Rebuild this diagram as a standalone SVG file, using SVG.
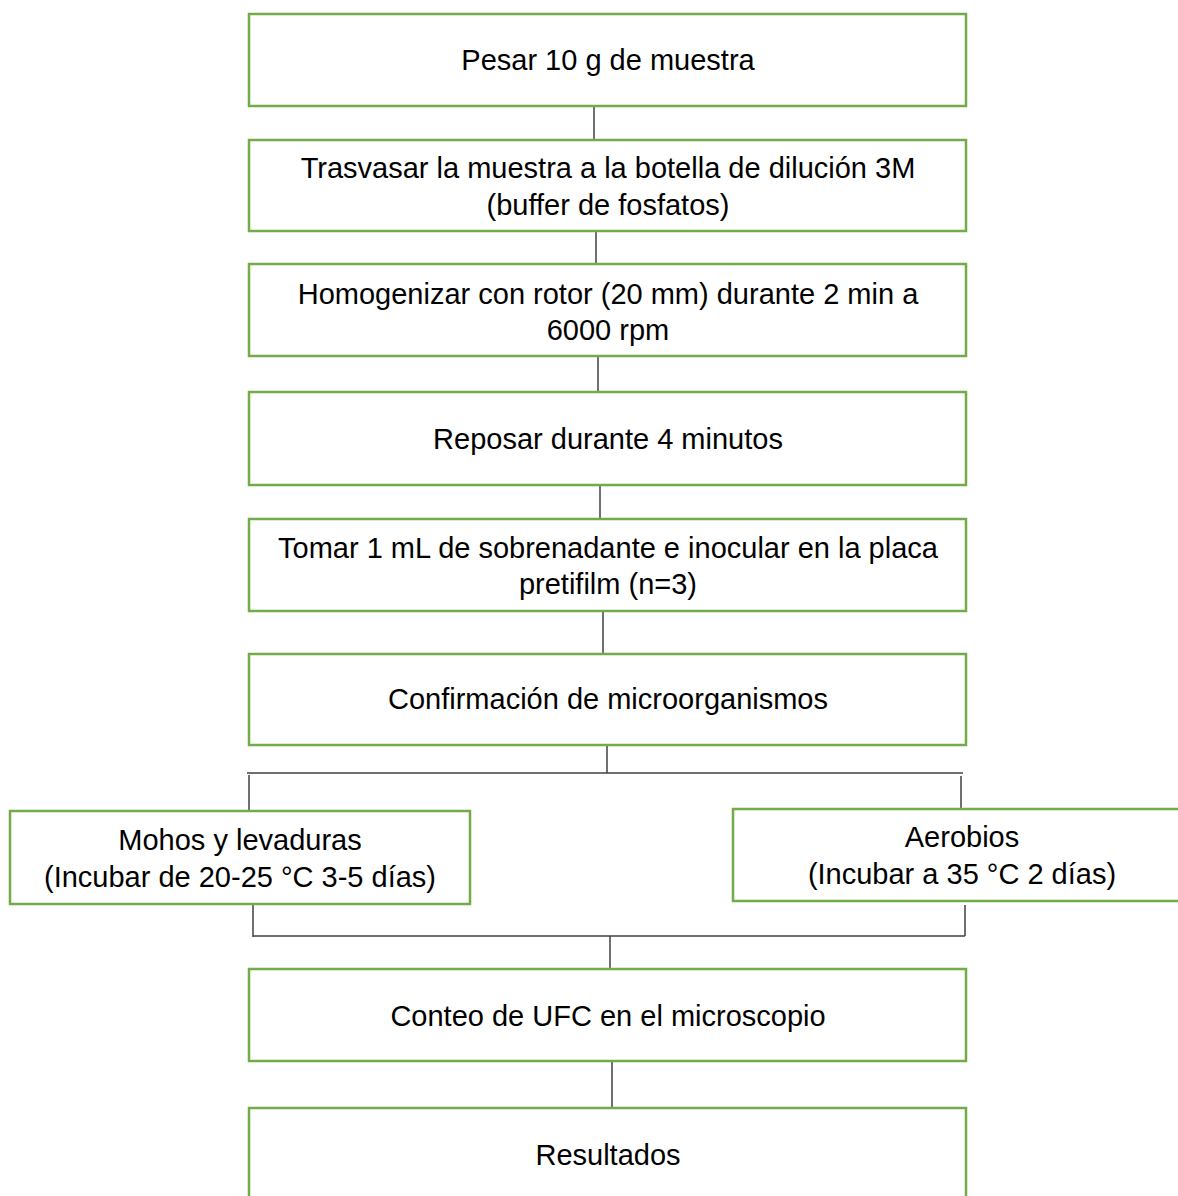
<svg xmlns="http://www.w3.org/2000/svg" width="1178" height="1196" viewBox="0 0 1178 1196">
<style>
.box{fill:#fff;stroke:#70AD47;stroke-width:2.5}
.t{font-family:"Liberation Sans",Arial,sans-serif;font-size:29px;fill:#000;text-anchor:middle}
.c{stroke:#404040;stroke-width:1.5;fill:none}
</style>
<rect width="1178" height="1196" fill="#fff"/>
<g id="connectors">
<line class="c" x1="594" y1="106" x2="594" y2="140"/>
<line class="c" x1="596" y1="231" x2="596" y2="264"/>
<line class="c" x1="598" y1="356" x2="598" y2="392"/>
<line class="c" x1="600" y1="485" x2="600" y2="519"/>
<line class="c" x1="603" y1="611" x2="603" y2="654"/>
<line class="c" x1="607" y1="745" x2="607" y2="773"/>
<line class="c" x1="247" y1="773" x2="963" y2="773"/>
<line class="c" x1="249" y1="775" x2="249" y2="811"/>
<line class="c" x1="961" y1="776" x2="961" y2="809"/>
<line class="c" x1="253" y1="904" x2="253" y2="937"/>
<line class="c" x1="965" y1="905" x2="965" y2="936"/>
<line class="c" x1="253" y1="936" x2="965" y2="936"/>
<line class="c" x1="610" y1="936" x2="610" y2="969"/>
<line class="c" x1="612" y1="1061" x2="612" y2="1108"/>
</g>
<g id="n1"><rect class="box" x="249" y="14" width="717" height="92"/><text class="t" x="608" y="70">Pesar 10 g de muestra</text></g>
<g id="n2"><rect class="box" x="249" y="140" width="717" height="91"/><text class="t" x="608" y="178">Trasvasar la muestra a la botella de dilución 3M</text><text class="t" x="608" y="215">(buffer de fosfatos)</text></g>
<g id="n3"><rect class="box" x="249" y="264" width="717" height="92"/><text class="t" x="608" y="304">Homogenizar con rotor (20 mm) durante 2 min a</text><text class="t" x="608" y="340">6000 rpm</text></g>
<g id="n4"><rect class="box" x="249" y="392" width="717" height="93"/><text class="t" x="608" y="449">Reposar durante 4 minutos</text></g>
<g id="n5"><rect class="box" x="249" y="519" width="717" height="92"/><text class="t" x="608" y="558">Tomar 1 mL de sobrenadante e inocular en la placa</text><text class="t" x="608" y="594">pretifilm (n=3)</text></g>
<g id="n6"><rect class="box" x="249" y="654" width="717" height="91"/><text class="t" x="608" y="709">Confirmación de microorganismos</text></g>
<g id="n7"><rect class="box" x="10" y="811" width="460" height="93"/><text class="t" x="240" y="850">Mohos y levaduras</text><text class="t" x="240" y="887">(Incubar de 20-25 °C 3-5 días)</text></g>
<g id="n8"><rect class="box" x="733" y="809" width="460" height="92"/><text class="t" x="962" y="847">Aerobios</text><text class="t" x="962" y="884">(Incubar a 35 °C 2 días)</text></g>
<g id="n9"><rect class="box" x="249" y="969" width="717" height="92"/><text class="t" x="608" y="1026">Conteo de UFC en el microscopio</text></g>
<g id="n10"><rect class="box" x="249" y="1108" width="717" height="100"/><text class="t" x="608" y="1165">Resultados</text></g>
</svg>
